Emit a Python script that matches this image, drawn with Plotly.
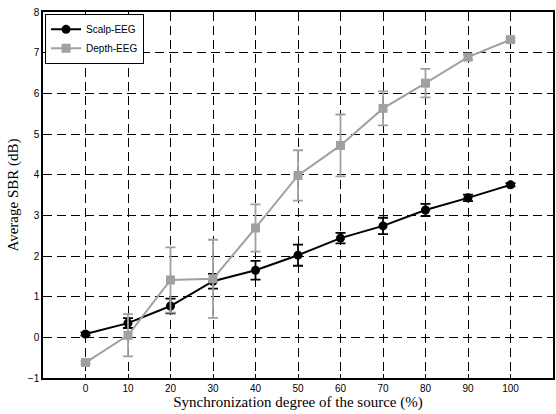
import plotly.graph_objects as go

sync = [0, 10, 20, 30, 40, 50, 60, 70, 80, 90, 100]
scalp = [0.08, 0.35, 0.77, 1.38, 1.65, 2.02, 2.44, 2.74, 3.13, 3.43, 3.75]
scalp_err = [0.04, 0.12, 0.18, 0.18, 0.23, 0.26, 0.13, 0.2, 0.15, 0.08, 0.04]
depth = [-0.62, 0.05, 1.41, 1.44, 2.69, 3.98, 4.72, 5.63, 6.25, 6.89, 7.32]
depth_err = [0.04, 0.52, 0.8, 0.96, 0.58, 0.62, 0.76, 0.42, 0.35, 0.06, 0.04]

BLACK = "#000000"
GRAY = "#a0a0a0"

fig = go.Figure()
fig.add_trace(go.Scatter(
    x=sync, y=scalp, name="Scalp-EEG", mode="lines+markers",
    line=dict(color=BLACK, width=2),
    marker=dict(symbol="circle", size=9, color=BLACK),
    error_y=dict(type="data", array=scalp_err, color=BLACK, thickness=1.8, width=5),
))
fig.add_trace(go.Scatter(
    x=sync, y=depth, name="Depth-EEG", mode="lines+markers",
    line=dict(color=GRAY, width=2),
    marker=dict(symbol="square", size=9, color=GRAY),
    error_y=dict(type="data", array=depth_err, color=GRAY, thickness=1.8, width=5),
))

axis_common = dict(
    showline=True, linecolor=BLACK, linewidth=1.5, mirror=True,
    showgrid=True, gridcolor=BLACK, griddash="9px,5px", gridwidth=1,
    zeroline=False, ticks="inside", ticklen=4, tickcolor=BLACK,
    tickfont=dict(family="Liberation Sans, Arial", size=10, color=BLACK),
    automargin=False,
)

fig.update_layout(
    width=556, height=414,
    margin=dict(l=43, r=3, t=12, b=36),
    paper_bgcolor="white", plot_bgcolor="white",
    xaxis=dict(
        range=[-10, 110], tickmode="array", tickvals=sync,
        title=dict(text="Synchronization degree of the source (%)", standoff=0,
                   font=dict(family="Liberation Serif, Times New Roman", size=15, color=BLACK)),
        **axis_common,
    ),
    yaxis=dict(
        range=[-1, 8], tickmode="linear", dtick=1, tick0=-1,
        title=dict(text="Average SBR (dB)", standoff=6,
                   font=dict(family="Liberation Serif, Times New Roman", size=15, color=BLACK)),
        **axis_common,
    ),
    legend=dict(
        x=0.004, y=0.995, xanchor="left", yanchor="top",
        bgcolor="white", bordercolor=BLACK, borderwidth=1,
        font=dict(family="Liberation Sans, Arial", size=10, color=BLACK),
        tracegroupgap=0, itemwidth=30,
    ),
    showlegend=True,
)

fig.write_html("out.html", config={"displayModeBar": False},
               post_script="document.body.style.margin='0';")
